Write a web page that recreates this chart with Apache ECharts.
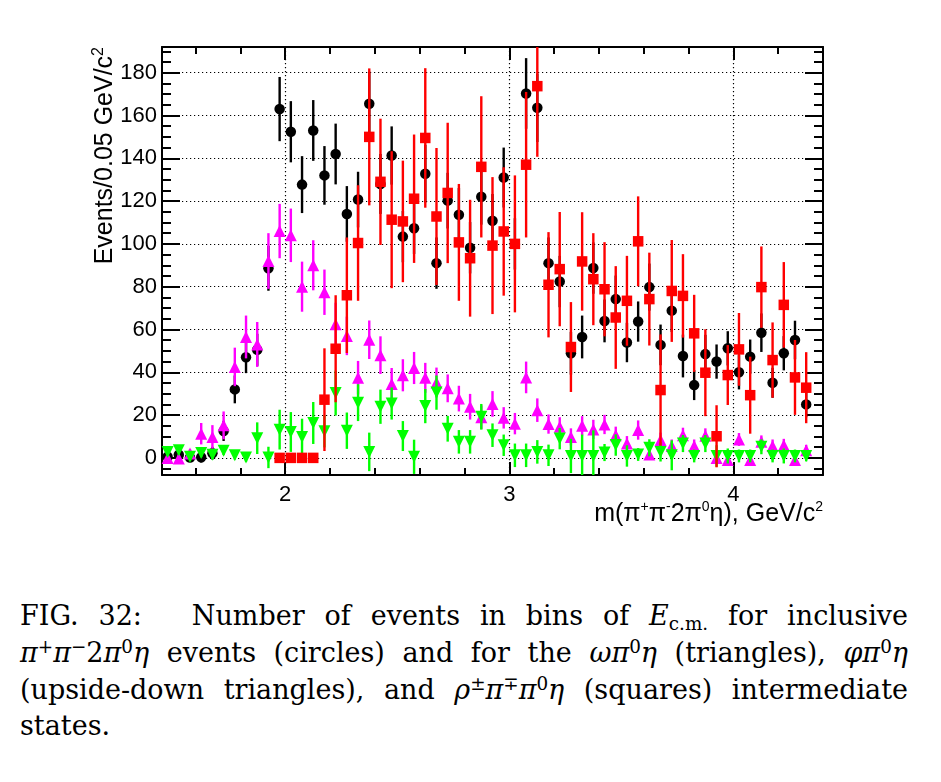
<!DOCTYPE html>
<html>
<head>
<meta charset="utf-8">
<script src="https://cdn.jsdelivr.net/npm/echarts@6/dist/echarts.min.js"></script>
<style>
  body { margin: 0; background: #fff; }
  #chart { position: absolute; left: 0; top: 0; width: 941px; height: 560px; }
  #caption {
    position: absolute; left: 20px; top: 598px; width: 888px;
    font-family: 'DejaVu Serif', serif; font-size: 27px; line-height: 36.8px; color: #000;
  }
  #caption .ln { text-align: justify; text-align-last: justify; }
  #caption .last { text-align: left; text-align-last: left; }
  #caption sup { font-size: 0.68em; vertical-align: 0.5em; line-height: 0; }
  #caption sub { font-size: 0.68em; vertical-align: -0.25em; line-height: 0; }
  #caption .quad { display: inline-block; width: 30px; }
</style>
</head>
<body>
<div id="chart"></div>
<div id="caption">
  <div class="ln">FIG. 32:<span class="quad"></span> Number of events in bins of <i>E</i><sub>c.m.</sub> for inclusive</div>
  <div class="ln"><i>π</i><sup>+</sup><i>π</i><sup>−</sup>2<i>π</i><sup>0</sup><i>η</i> events (circles) and for the <i>ωπ</i><sup>0</sup><i>η</i> (triangles), <i>φπ</i><sup>0</sup><i>η</i></div>
  <div class="ln">(upside-down triangles), and <i>ρ</i><sup>±</sup><i>π</i><sup>∓</sup><i>π</i><sup>0</sup><i>η</i> (squares) intermediate</div>
  <div class="ln last">states.</div>
</div>
<script>
// bin centres, GeV/c^2 (bins of 0.05)
const massBins = [
  1.475, 1.525, 1.575, 1.625, 1.675, 1.725, 1.775, 1.825, 1.875, 1.925,
  1.975, 2.025, 2.075, 2.125, 2.175, 2.225, 2.275, 2.325, 2.375, 2.425,
  2.475, 2.525, 2.575, 2.625, 2.675, 2.725, 2.775, 2.825, 2.875, 2.925,
  2.975, 3.025, 3.075, 3.125, 3.175, 3.225, 3.275, 3.325, 3.375, 3.425,
  3.475, 3.525, 3.575, 3.625, 3.675, 3.725, 3.775, 3.825, 3.875, 3.925,
  3.975, 4.025, 4.075, 4.125, 4.175, 4.225, 4.275, 4.325
]

// inclusive pi+pi-2pi0eta (black circles)
const inclValues = [
  0.5, 1.5, 0.2, 0.3, 2.2, 12.6, 32, 47, 50.5, 88.6,
  163, 152.4, 127.7, 153, 132, 142, 114, 120.7, 165.5, 128,
  141.3, 103.4, 107.3, 132.8, 91, 120.2, 113.6, 98.2, 122, 110.8,
  131, 100, 170.3, 163.6, 91, 82.4, 48.9, 56.5, 88.7, 64,
  74.2, 53.9, 63.7, 79.8, 52.8, 68.8, 47.6, 34, 48.5, 45,
  51.2, 40, 47.3, 58.5, 35.1, 48.9, 55.1, 25
]
const inclErrors = [
  1.5, 2, 1.5, 2.5, 3, 4.7, 6.5, 7.4, 7.5, 10.5,
  15, 14.3, 13.3, 14.2, 13.7, 14.2, 13, 13, 15, 14,
  13.6, 12, 12, 13.5, 12, 13, 12.5, 12, 13, 12.5,
  14, 12, 16.5, 16, 12, 12, 10, 10, 12, 10,
  11, 9.2, 9.4, 11, 9.5, 10, 10, 7, 9, 8,
  8, 8, 8, 9, 7, 8, 9, 6
]

// omega pi0 eta (magenta triangles)
const omegaValues = [
  0, -0.3, 2, 11.3, 9.8, 15.2, 42.5, 56.5, 53, 92,
  106, 104, 80, 90, 77.4, 62.5, 57, 37.5, 55.2, 48,
  34.5, 38.6, 42, 37.4, 35.2, 32.5, 27.7, 23.9, 19, 25.2,
  18.7, 16, 37.6, 22.3, 15.8, 14.5, 9.8, 15, 13.3, 15.6,
  10.6, 6.7, 13, 1.6, 8.3, 5.6, 10.6, 5.6, 10.3, 0,
  -1, 8.6, -1, 7.5, 5.6, 5.9, -1, 3.6
]
const omegaErrors = [
  1.5, 2, 2, 5, 5.5, 6.5, 9, 10, 10.5, 13,
  12.7, 12.5, 11.7, 11.7, 10.6, 10, 9, 7.8, 9, 8.8,
  7.5, 7.5, 7.5, 7, 7, 6.5, 6, 6, 5.5, 6,
  5, 5, 7.4, 5.5, 4.5, 4.5, 4, 4.5, 4.5, 4.5,
  4, 3.5, 4.5, 2.5, 3.5, 3, 3.5, 3, 3.5, 1.5,
  1.5, 3, 1.5, 3, 3, 3, 1.5, 2.5
]

// phi pi0 eta (green upside-down triangles)
const phiValues = [
  2.8, 3.6, 0.5, 2.3, 1.5, 3.3, 1.2, 0.2, 9.2, 0.2,
  13.2, 12.1, 9.8, 16.3, 12.4, 30.3, 12.7, 25.8, 2.8, 23.9,
  25.4, 10.2, 0.5, 24.2, 30.5, 13.6, 7.5, 7.5, 19.2, 10.6,
  5.9, 1.2, 1.2, 2.8, 1.2, 9, 0.9, 0.9, 0.9, 2.5,
  6, 0.9, 1.6, 4.7, 2.8, 1.2, 6.7, 0.9, 6.7, 0.9,
  0.9, 0.9, 0.9, 5.2, 0.9, 0.9, 0.9, 0.9
]
const phiErrors = [
  2, 2, 2, 2, 2, 2, 2, 2, 7.4, 5,
  9.3, 9.3, 8.5, 9.8, 7.5, 10.5, 8.5, 8.6, 9, 8,
  7.5, 7, 8, 8, 8, 6, 5.5, 5.5, 6, 5.5,
  5, 5.5, 5.5, 5.5, 5, 5, 8, 10, 12, 4,
  5, 5, 3, 4, 4.5, 7, 4, 3, 4, 5,
  3.5, 3, 3, 3.5, 3, 3.5, 3, 2.5
]

// rho+- pi-+ pi0 eta (red squares)
const rhoValues = [
  null, null, null, null, null, null, null, null, null, null,
  0, 0, 0, 0, 27.2, 51, 76, 100.4, 150, 129,
  111.3, 110.5, 121.1, 149.5, 112.8, 123.8, 100.7, 93.3, 136, 99.2,
  105.8, 100, 137, 173.7, 80.9, 88.2, 51.8, 91.8, 83.5, 78.8,
  65.6, 73.4, 101.2, 74.2, 31.7, 78, 75.7, 58.2, 39.8, 10.1,
  38.7, 50.7, 29.3, 79.8, 45.7, 71.5, 37.6, 32.8
]
const rhoErrors = [
  null, null, null, null, null, null, null, null, null, null,
  0, 0, 0, 0, 24, 25, 27, 27, 32, 29.5,
  32, 28.4, 30, 32.6, 32, 32.8, 27.3, 27.3, 33, 32,
  30, 32, 34, 33, 24.6, 26.7, 21, 23, 21.5, 22,
  24, 21, 21, 21.7, 26, 23.8, 19.5, 18, 20.3, 14.5,
  14, 17, 18, 19, 17.6, 20, 17.5, 16.6
]

// ticks
const xMajorTicks = [2, 3, 4]
const xMinorTicks = [1.6, 1.8, 2.2, 2.4, 2.6, 2.8, 3.2, 3.4, 3.6, 3.8, 4.2, 4.4]
const yMajorTicks = [0, 20, 40, 60, 80, 100, 120, 140, 160, 180]
const yMinorTicks = [-5, 5, 10, 15, 25, 30, 35, 45, 50, 55, 65, 70, 75, 85, 90, 95,
  105, 110, 115, 125, 130, 135, 145, 150, 155, 165, 170, 175, 185, 190]

const X_MIN = 1.45
const X_MAX = 4.4
const Y_MIN = -8
const Y_MAX = 192

const FONT = 'Liberation Sans, Arial, sans-serif'

function toPoints(values, errors) {
  const pts = []
  massBins.forEach((m, i) => {
    if (values[i] === null) return
    pts.push([m, values[i], errors[i]])
  })
  return pts
}

// vertical error bars
function errorSeries(values, errors, color, z) {
  return {
    type: 'custom',
    clip: true,
    z: z,
    silent: true,
    encode: { x: 0, y: 1 },
    data: toPoints(values, errors),
    renderItem(params, api) {
      const x = api.value(0)
      const y = api.value(1)
      const e = api.value(2)
      if (!e) return null
      const lo = api.coord([x, y - e])
      const hi = api.coord([x, y + e])
      return {
        type: 'line',
        shape: { x1: lo[0], y1: lo[1], x2: hi[0], y2: hi[1] },
        style: { stroke: color, lineWidth: 2.4 },
      }
    },
  }
}

function markerSeries(values, errors, color, symbol, size, rotate, z) {
  return {
    type: 'scatter',
    z: z,
    silent: true,
    symbol: symbol,
    symbolSize: size,
    symbolRotate: rotate,
    itemStyle: { color: color, opacity: 1 },
    data: toPoints(values, errors).map((p) => [p[0], p[1]]),
  }
}

function xAxisDef(position, ticks, len, showLine, showLabel, showSplit) {
  return {
    type: 'value',
    position: position,
    min: X_MIN,
    max: X_MAX,
    axisLine: { show: showLine, onZero: false, lineStyle: { color: '#000', width: 2 } },
    axisTick: { show: true, inside: true, length: len, customValues: ticks, lineStyle: { color: '#000', width: 2 } },
    axisLabel: {
      show: showLabel, customValues: ticks, margin: 9,
      fontFamily: FONT, fontSize: 22, color: '#000',
    },
    splitLine: { show: showSplit, lineStyle: { color: '#000', type: [1.2, 2.8], width: 1.2 } },
    minorTick: { show: false },
  }
}

function yAxisDef(position, ticks, len, showLine, showLabel, showSplit) {
  return {
    type: 'value',
    position: position,
    min: Y_MIN,
    max: Y_MAX,
    axisLine: { show: showLine, onZero: false, lineStyle: { color: '#000', width: 2 } },
    axisTick: { show: true, inside: true, length: len, customValues: ticks, lineStyle: { color: '#000', width: 2 } },
    axisLabel: {
      show: showLabel, customValues: ticks, margin: 5,
      fontFamily: FONT, fontSize: 22, color: '#000',
    },
    splitLine: { show: showSplit, lineStyle: { color: '#000', type: [1.2, 2.8], width: 1.2 } },
    minorTick: { show: false },
  }
}

const chart = echarts.init(document.getElementById('chart'), null, { renderer: 'canvas' })

chart.setOption({
  animation: false,
  backgroundColor: '#fff',
  grid: { left: 162, top: 47, width: 661, height: 428, containLabel: false },
  xAxis: [
    xAxisDef('bottom', xMajorTicks, 13, true, true, true),
    xAxisDef('bottom', xMinorTicks, 7, false, false, false),
    xAxisDef('top', xMajorTicks, 13, true, false, false),
    xAxisDef('top', xMinorTicks, 7, false, false, false),
  ],
  yAxis: [
    yAxisDef('left', yMajorTicks, 18, true, true, true),
    yAxisDef('left', yMinorTicks, 9, false, false, false),
    yAxisDef('right', yMajorTicks, 18, true, false, false),
    yAxisDef('right', yMinorTicks, 9, false, false, false),
  ],
  series: [
    errorSeries(inclValues, inclErrors, '#000000', 2),
    markerSeries(inclValues, inclErrors, '#000000', 'circle', 10.5, 0, 3),
    errorSeries(omegaValues, omegaErrors, '#ff00ff', 4),
    markerSeries(omegaValues, omegaErrors, '#ff00ff', 'triangle', 12, 0, 5),
    errorSeries(phiValues, phiErrors, '#00ff00', 6),
    markerSeries(phiValues, phiErrors, '#00ff00', 'triangle', 12, 180, 7),
    errorSeries(rhoValues, rhoErrors, '#ff0000', 8),
    markerSeries(rhoValues, rhoErrors, '#ff0000', 'rect', 10.5, 0, 9),
  ],
  graphic: [
    {
      type: 'text',
      x: 105,
      y: 47,
      rotation: Math.PI / 2,
      style: {
        text: '{n|Events/0.05 GeV/c}{s|2}',
        align: 'right',
        verticalAlign: 'middle',
        rich: {
          n: { fontFamily: FONT, fontSize: 25, color: '#000', lineHeight: 28 },
          s: { fontFamily: FONT, fontSize: 16, color: '#000', lineHeight: 28, verticalAlign: 'top' },
        },
      },
    },
    {
      type: 'text',
      x: 823,
      y: 514,
      style: {
        text: '{n|m(π}{s|+}{n|π}{s|-}{n|2π}{s|0}{n|η), GeV/c}{s|2}',
        align: 'right',
        verticalAlign: 'middle',
        rich: {
          n: { fontFamily: FONT, fontSize: 25, color: '#000', lineHeight: 28 },
          s: { fontFamily: FONT, fontSize: 14, color: '#000', lineHeight: 28, verticalAlign: 'top' },
        },
      },
    },
  ],
})
</script>
</body>
</html>
